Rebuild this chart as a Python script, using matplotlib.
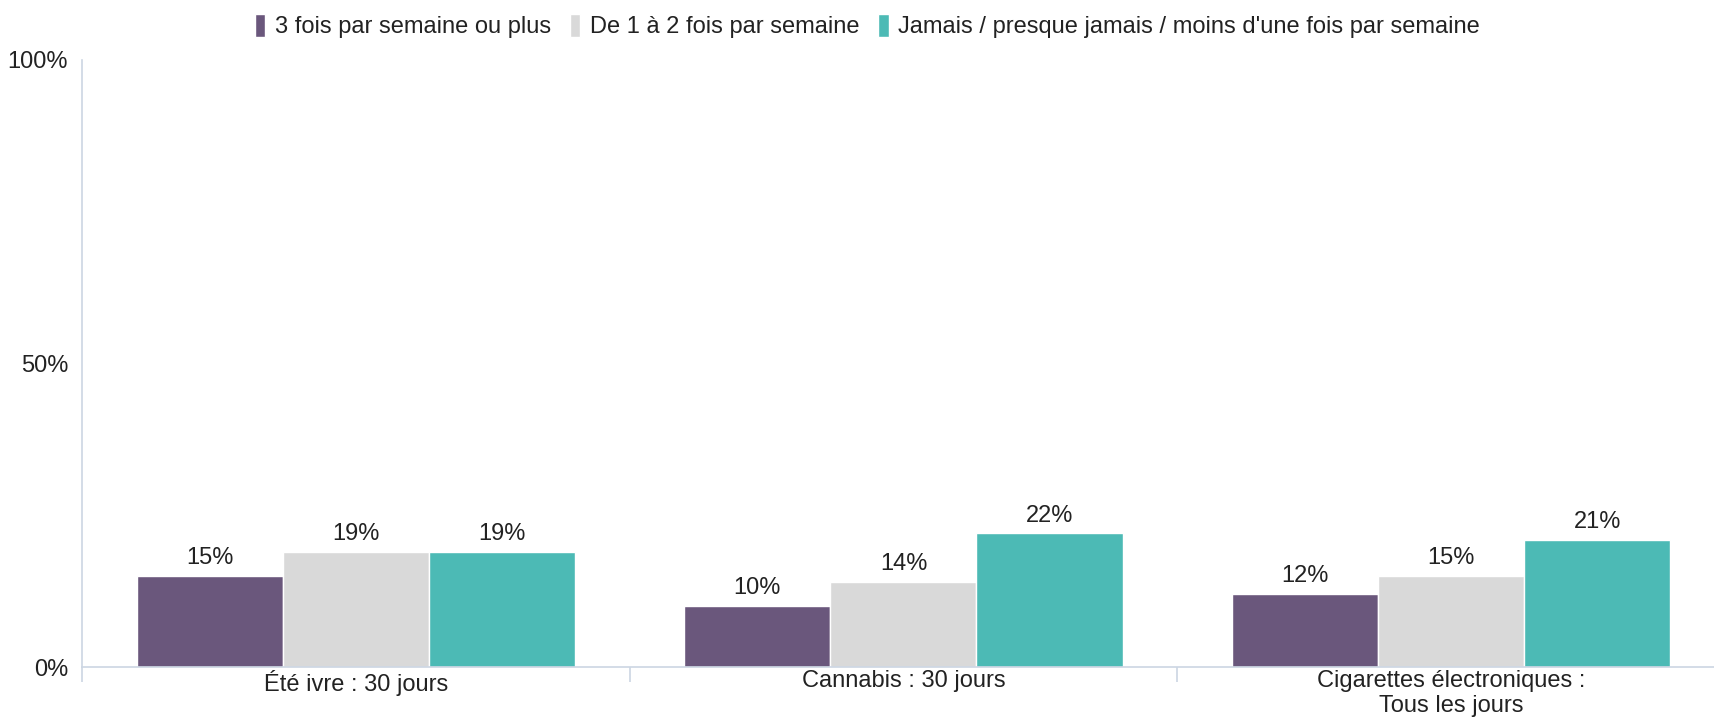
import matplotlib.pyplot as plt
import numpy as np

plt.rcParams['font.family'] = ['Liberation Sans', 'DejaVu Sans']

categories = ["Été ivre : 30 jours", "Cannabis : 30 jours",
              "Cigarettes électroniques :\nTous les jours"]
series = ["3 fois par semaine ou plus", "De 1 à 2 fois par semaine",
          "Jamais / presque jamais / moins d'une fois par semaine"]
values = [
    [15, 10, 12],
    [19, 14, 15],
    [19, 22, 21],
]
colors = ["#6a577c", "#d9d9d9", "#4cbab5"]
axis_col = "#ccd6e3"
fs = 17

fig = plt.figure(figsize=(17.14, 7.19), dpi=100)
ax = fig.add_axes([0.0478, 0.0723, 0.9586, 0.8443])

x = np.arange(len(categories))
w = 0.8 / 3
for i, (name, vals) in enumerate(zip(series, values)):
    pos = x + (i - 1) * w
    bars = ax.bar(pos, vals, width=w, color=colors[i], edgecolor="white",
                  linewidth=1, label=name)
    for b, v in zip(bars, vals):
        ax.annotate(f"{v}%", (b.get_x() + b.get_width() / 2, v),
                    xytext=(0, 5), textcoords="offset points",
                    ha="center", va="bottom", fontsize=fs, color="#222222")

ax.set_xlim(-0.5, 2.5)
ax.set_ylim(0, 100)
ax.set_yticks([0, 50, 100])
ax.set_yticklabels(["0%", "50%", "100%"])
ax.set_xticks(x)
ax.set_xticklabels(categories)
ax.set_xticks([-0.5, 0.5, 1.5, 2.5], minor=True)
ax.tick_params(axis="x", which="major", length=0, pad=2, labelsize=fs,
               labelcolor="#222222")
ax.tick_params(axis="x", which="minor", length=11, color=axis_col, width=1.2)
ax.tick_params(axis="y", length=0, pad=10, labelsize=fs, labelcolor="#222222")

for s in ["top", "right"]:
    ax.spines[s].set_visible(False)
for s in ["left", "bottom"]:
    ax.spines[s].set_color(axis_col)
    ax.spines[s].set_linewidth(1.2)

leg = fig.legend(loc="upper center", bbox_to_anchor=(0.506, 1.01), ncol=3,
                 frameon=False, fontsize=fs, handlelength=0.45,
                 handleheight=1.1, handletextpad=0.4, columnspacing=0.8)
for t in leg.get_texts():
    t.set_color("#222222")

fig.savefig("out.png", dpi=100)
